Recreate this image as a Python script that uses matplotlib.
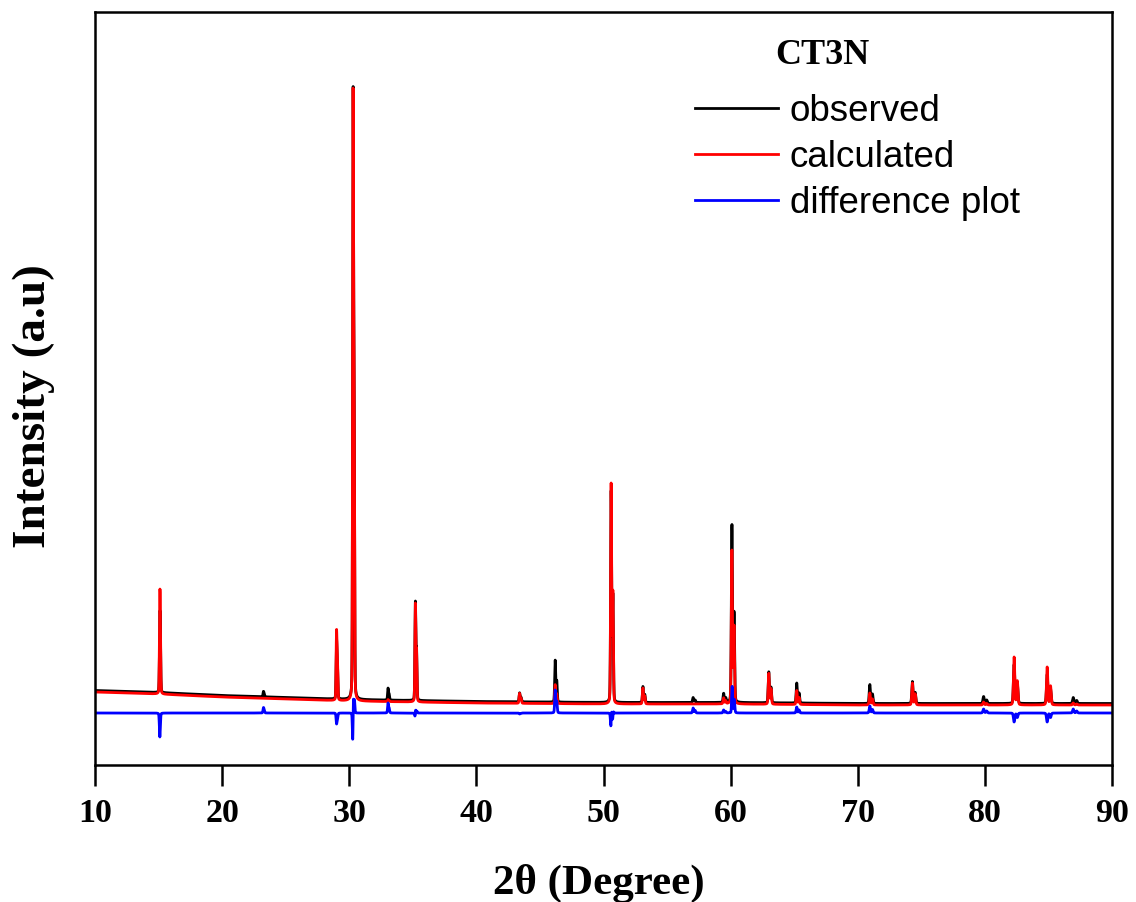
import numpy as np
import matplotlib
matplotlib.use("Agg")
import matplotlib.pyplot as plt

# ---- Rietveld refinement data for sample CT3N ----
# Background level (counts) at selected 2-theta values
bg_theta = [10, 15, 20, 25, 30, 35, 40, 50, 60, 70, 80, 90]
bg_counts = [1460, 1420, 1360, 1320, 1280, 1260, 1240, 1220, 1220, 1200, 1200, 1200]

# Reflections: position (deg), FWHM (deg), calculated and observed peak heights
peak_pos = [15.10, 23.25, 29.00, 30.30, 33.05, 35.20, 43.40, 46.20, 50.60, 53.10,
            57.05, 59.45, 60.10, 63.00, 65.20, 70.95, 74.30, 79.90, 82.30, 84.90, 86.95]
peak_fwhm = [0.08, 0.08, 0.08, 0.08, 0.08, 0.08, 0.09, 0.09, 0.09, 0.09,
             0.10, 0.10, 0.10, 0.10, 0.10, 0.11, 0.11, 0.12, 0.12, 0.12, 0.12]
calc_height = [2100, 0, 1420, 12260, 40, 1980, 200, 380, 4420, 320,
               0, 120, 3080, 620, 280, 240, 440, 60, 960, 760, 40]
obs_height = [1640, 110, 1200, 12260, 240, 1990, 180, 840, 4240, 320,
              100, 180, 3560, 620, 400, 380, 440, 140, 780, 580, 120]
obs_shift = [0.003, 0, 0, 0.0025, 0, 0.002, 0, 0, 0.002, 0,
             0, 0, 0.003, 0, 0, 0, 0, 0, 0, 0, 0]

obs_bg_offset = 30      # observed background sits slightly above the fit
diff_offset = 1010      # vertical offset of the difference curve

KA2_RATIO = 0.5
LAMBDA_RATIO = 1.54443 / 1.54056   # Cu K-alpha2 / K-alpha1

two_theta = np.arange(10.0, 90.0001, 0.005)


def pseudo_voigt(x, x0, fwhm, eta=0.2):
    s = fwhm / 2.3548
    g = np.exp(-0.5 * ((x - x0) / s) ** 2)
    l = 1.0 / (1.0 + ((x - x0) / (fwhm / 2)) ** 2)
    return eta * l + (1 - eta) * g


def doublet(x, pos, fwhm):
    th1 = np.radians(pos / 2)
    pos2 = 2 * np.degrees(np.arcsin(np.sin(th1) * LAMBDA_RATIO))
    prof = pseudo_voigt(x, pos, fwhm) + KA2_RATIO * pseudo_voigt(x, pos2, fwhm)
    return prof / prof.max()


def pattern(heights, shifts, bg_extra):
    y = np.interp(two_theta, bg_theta, bg_counts) + bg_extra
    for p, w, h, d in zip(peak_pos, peak_fwhm, heights, shifts):
        y = y + h * doublet(two_theta, p + d, w)
    return y


y_calc = pattern(calc_height, [0] * len(peak_pos), 0)
y_obs = pattern(obs_height, obs_shift, obs_bg_offset)
y_diff = y_obs - y_calc + diff_offset

# ---- figure ----
fig = plt.figure(figsize=(11.36, 9.02), dpi=100)
ax = fig.add_axes([95 / 1136, 137 / 902, 1017 / 1136, 753 / 902])

l_obs, = ax.plot(two_theta, y_obs, color="black", lw=2.0, label="observed")
l_calc, = ax.plot(two_theta, y_calc, color="#ff0000", lw=2.0, label="calculated")
l_diff, = ax.plot(two_theta, y_diff, color="#0000ff", lw=2.0, label="difference plot")

ax.set_xlim(10, 90)
ax.set_ylim(0, 15060)
ax.set_xticks(np.arange(10, 91, 10))
ax.set_yticks([])

serif = ["Liberation Serif", "DejaVu Serif"]
for lab in ax.get_xticklabels():
    lab.set_fontfamily(serif)
    lab.set_fontweight("bold")
    lab.set_fontsize(24.5)
ax.tick_params(axis="x", direction="out", length=15, width=1.8, pad=9)

for sp in ax.spines.values():
    sp.set_linewidth(1.8)

ax.set_xlabel("2θ (Degree)", family=serif, fontweight="bold", fontsize=31)
ax.xaxis.set_label_coords(0.4955, -0.132)
ax.set_ylabel("Intensity (a.u)", family=serif, fontweight="bold", fontsize=34)
ax.yaxis.set_label_coords(-0.039, 0.477)

ax.text(0.715, 0.942, "CT3N", transform=ax.transAxes, ha="center", va="center",
        family=serif, fontweight="bold", fontsize=26)

leg = ax.legend(handles=[l_obs, l_calc, l_diff], loc="upper left",
                bbox_to_anchor=(0.590, 0.891), frameon=False, borderpad=0,
                borderaxespad=0, handlelength=2.25, handletextpad=0.33,
                labelspacing=0.3, prop={"family": "Liberation Sans", "size": 26.5})
for h in leg.legend_handles:
    h.set_linewidth(2.0)

fig.savefig("out.png", dpi=100)
